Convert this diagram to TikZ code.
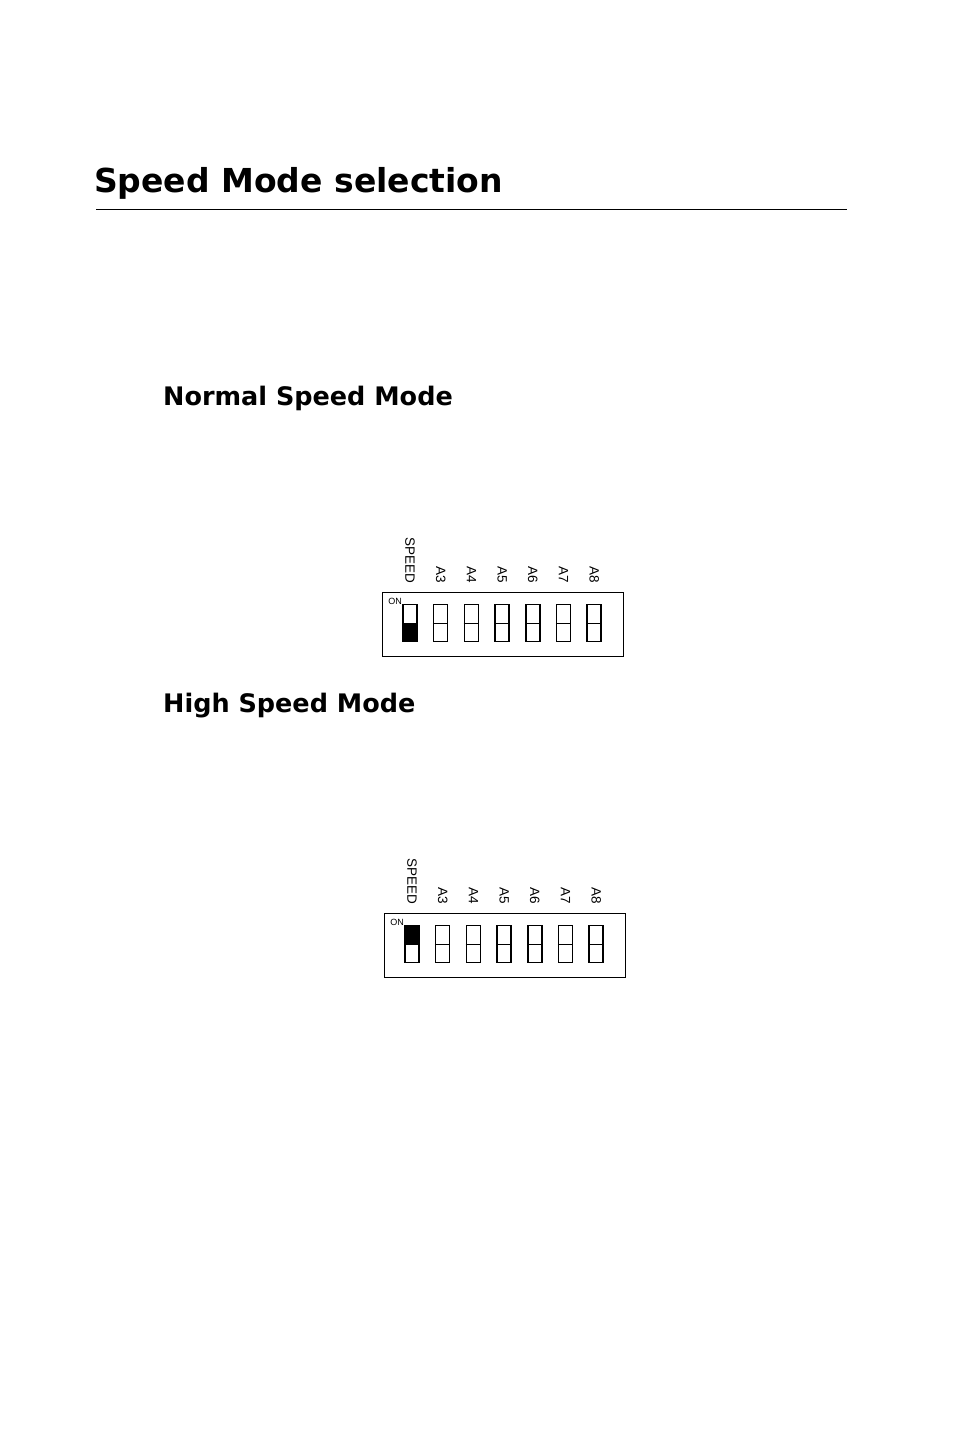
\documentclass[tikz,border=0pt]{standalone}
\usepackage{fontspec}
\setmainfont{Liberation Sans}
\newfontfamily\headfont{DejaVu Sans}
\tikzset{
  swbox/.style={draw, line width=1.5pt, minimum width=14pt, minimum height=37pt, inner sep=0pt},
  swlabel/.style={rotate=-90, anchor=east, font=\fontsize{13.5}{13.5}\selectfont, inner sep=0pt},
  heading/.style={anchor=west, font=\headfont\bfseries\fontsize{25.5}{25.5}\selectfont, inner sep=0pt}
}
\newcommand{\dipswitch}[3]{%
  % frame and ON mark
  \draw[line width=1pt] (#1,#2) rectangle ++(241,64);
  \node[font=\fontsize{9}{9}\selectfont, inner sep=0pt] at ($(#1,#2)+(13,9)$) {ON};
  \foreach \lbl [count=\i from 0] in {SPEED,A3,A4,A5,A6,A7,A8} {
    \coordinate (sw\i) at ($(#1,#2)+(28+30.7*\i,31)$);
    \node[swlabel] at ($(sw\i)+(0,-40)$) {\lbl};
    \node[swbox] (b\i) at (sw\i) {};
    \draw[line width=1pt] (b\i.west) -- (b\i.east);
  }
  % actuator
  \ifnum#3=1
    \fill (b0.west) rectangle (b0.north east);
  \else
    \fill (b0.west) rectangle (b0.south east);
  \fi
}
\usetikzlibrary{calc}
\begin{document}
\begin{tikzpicture}[x=1pt, y=-1pt]
  \useasboundingbox (0,0) rectangle (954,1434);
  % Title
  \node[heading, font=\headfont\bfseries\fontsize{33}{33}\selectfont] (title) at (94,183) {Speed Mode selection};
  \draw[line width=0.8pt] (96,209) -- (847,209);
  % Normal
  \node[heading] (normal) at (163,398) {Normal Speed Mode};
  \dipswitch{382}{592}{0}
  % High
  \node[heading] (high) at (163,706) {High Speed Mode};
  \dipswitch{384}{913}{1}
\end{tikzpicture}
\end{document}
